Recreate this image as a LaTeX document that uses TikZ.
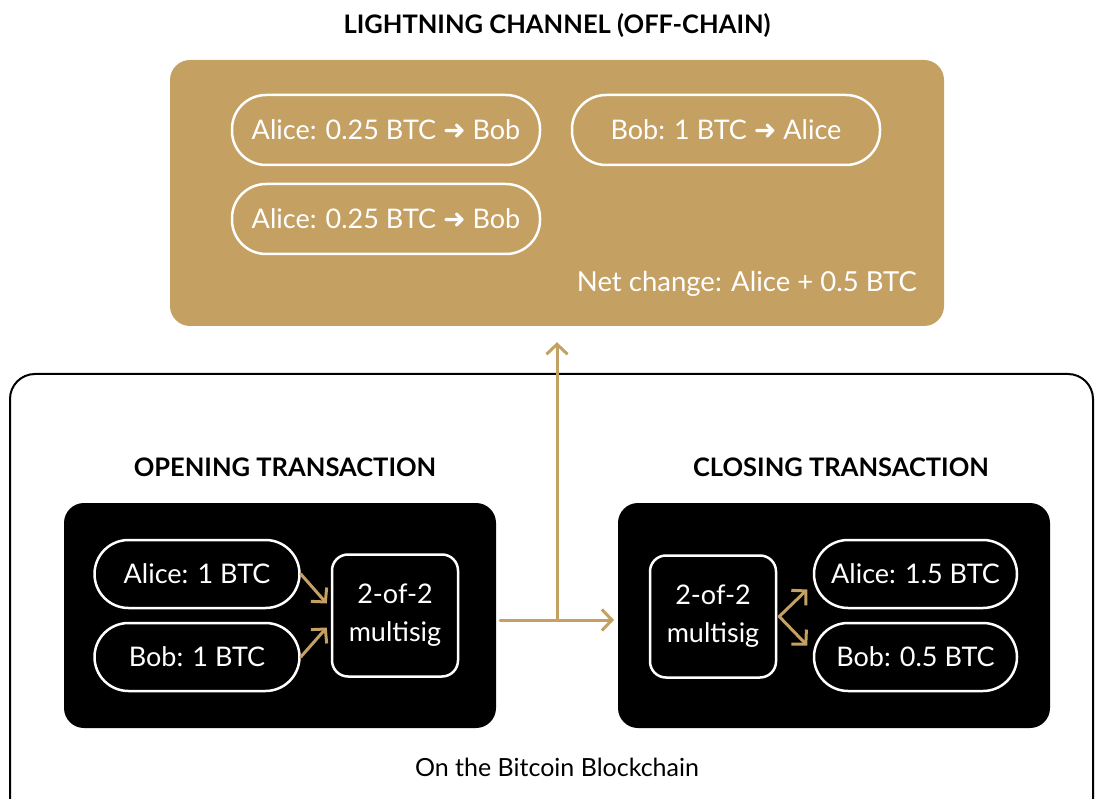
\documentclass[tikz,border=0pt]{standalone}
\usepackage{fontspec}
\setmainfont{Lato}
\newfontfamily\symfont{DejaVu Sans}
\usetikzlibrary{arrows.meta}
\definecolor{gold}{HTML}{C4A063}
\newcommand{\rarr}{{\symfont\bfseries\char"279C}}

\begin{document}
\begin{tikzpicture}[x=1pt,y=-1pt,line join=round,line cap=round,
 >={Straight Barb[length=10pt,width=21pt]},
 pill/.style={draw=white,line width=2.5pt,rounded corners=34pt,minimum width=#1,minimum height=70pt,
   text=white,inner sep=0pt,font=\fontsize{27}{30}\selectfont},
 msig/.style={draw=white,line width=2.5pt,rounded corners=16pt,minimum width=126pt,minimum height=122pt,
   text=white,align=center,inner sep=0pt,font=\fontsize{27}{38}\selectfont},
 blackbox/.style={fill=black,rounded corners=20pt,minimum width=432pt,minimum height=225pt},
 heading/.style={font=\bfseries\fontsize{25.5}{30}\selectfont},
 flow/.style={draw=gold,line width=3pt}]
 \useasboundingbox (0,0) rectangle (1095,799);
 % off-chain part
 \node[heading] (chtitle) at (557,26) {LIGHTNING CHANNEL (OFF-CHAIN)};
 \node[fill=gold,rounded corners=20pt,minimum width=774pt,minimum height=266pt] (chan) at (557,193) {};
 \node[pill=308pt] (p1) at (386,130) {Alice: 0.25 BTC \rarr\ Bob};
 \node[pill=308pt] (p2) at (726,130) {Bob: 1 BTC \rarr\ Alice};
 \node[pill=308pt] (p3) at (386,219) {Alice: 0.25 BTC \rarr\ Bob};
 \node[anchor=east,text=white,inner sep=0pt,font=\fontsize{27.5}{30}\selectfont] (net) at (917,284) {Net change: Alice + 0.5 BTC};
 % on-chain part
 \draw[line width=2pt,rounded corners=25pt] (10,374) rectangle (1093,840);
 \node[heading] (optitle) at (285,467) {OPENING TRANSACTION};
 \node[heading] (cltitle) at (841,467) {CLOSING TRANSACTION};
 \node[blackbox] (openbox) at (280,615.5) {};
 \node[blackbox] (closebox) at (834,615.5) {};
 \node[pill=205pt,minimum height=68pt] (a1) at (197,574) {Alice: 1 BTC};
 \node[pill=205pt,minimum height=68pt] (b1) at (197,657) {Bob: 1 BTC};
 \node[msig] (ms1) at (395,615.5) {2-of-2\\multisig};
 \node[msig] (ms2) at (713,616.5) {2-of-2\\multisig};
 \node[pill=203pt,minimum height=68pt] (a2) at (915.5,574) {Alice: 1.5 BTC};
 \node[pill=203pt,minimum height=68pt] (b2) at (915.5,657) {Bob: 0.5 BTC};
 \node[font=\fontsize{25}{28}\selectfont] (chain) at (557,767) {On the Bitcoin Blockchain};
 % arrows
 \draw[flow,->] (a1.east) -- ([shift={(-4pt,12pt)}]ms1.west);
 \draw[flow,->] (b1.east) -- ([shift={(-4pt,-12pt)}]ms1.west);
 \draw[flow,->] ([xshift=2pt]ms2.east) -- ([shift={(30pt,27pt)}]ms2.east);
 \draw[flow,->] ([xshift=2pt]ms2.east) -- ([shift={(30pt,-29pt)}]ms2.east);
 \coordinate (split) at (557,620);
 \draw[flow,->] (500,620) -- (614,620);
 \draw[flow,->] (split) -- ([yshift=-16pt]chan.south);
\end{tikzpicture}
\end{document}
